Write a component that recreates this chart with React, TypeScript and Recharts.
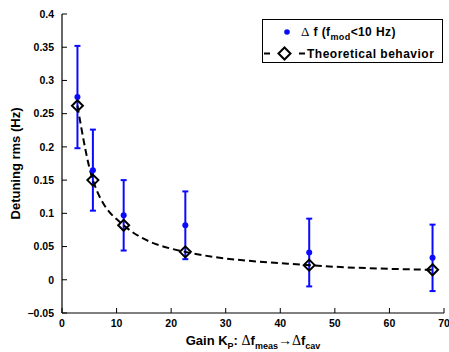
import React from 'react';
import { ComposedChart, Scatter, Line, XAxis, YAxis, ErrorBar, Legend, Label } from 'recharts';

const gains = [2.83, 5.66, 11.3, 22.6, 45.3, 67.9];
const measured = [0.275, 0.165, 0.097, 0.082, 0.041, 0.033];
const errors = [0.077, 0.061, 0.053, 0.051, 0.051, 0.05];
const theoretical = [0.262, 0.15, 0.082, 0.042, 0.022, 0.015];
const xTicks = [0, 10, 20, 30, 40, 50, 60, 70];
const yTicks = [-0.05, 0, 0.05, 0.1, 0.15, 0.2, 0.25, 0.3, 0.35, 0.4];

const data = gains.map((g, i) => ({ x: g, y: measured[i], err: errors[i], t: theoretical[i] }));

const BLUE = '#0a0aff';
const SANS = '"Liberation Sans", Arial, Helvetica, sans-serif';
const SERIF = '"Liberation Serif", "Times New Roman", serif';

const Diamond = (props: any) => {
  const { cx, cy } = props;
  if (cx == null || cy == null) return null;
  const r = 5.5;
  return (
    <path
      d={`M${cx},${cy - r}L${cx + r},${cy}L${cx},${cy + r}L${cx - r},${cy}Z`}
      fill="none"
      stroke="#000"
      strokeWidth={2}
    />
  );
};

const Dot = (props: any) => {
  const { cx, cy } = props;
  if (cx == null || cy == null) return null;
  return <circle cx={cx} cy={cy} r={3} fill={BLUE} />;
};

const LegendBox = () => (
  <svg width={181} height={44} style={{ display: 'block' }}>
    <rect x={0.5} y={0.5} width={180} height={43} fill="#fff" stroke="#000" strokeWidth={1} />
    <circle cx={25} cy={13} r={2.8} fill={BLUE} />
    <text x={39} y={17} fontFamily={SANS} fontWeight="bold" fontSize={12} letterSpacing={0.4} fill="#000">
      <tspan fontFamily={SERIF} fontWeight="normal" fontSize={13}>Δ</tspan>
      <tspan> f (f</tspan>
      <tspan fontSize={9} dy={4}>mod</tspan>
      <tspan dy={-4}>&lt;10 Hz)</tspan>
    </text>
    <line x1={2} y1={34.5} x2={8} y2={34.5} stroke="#000" strokeWidth={2} />
    <line x1={37} y1={34.5} x2={43} y2={34.5} stroke="#000" strokeWidth={2} />
    <path d="M22.5,28.5L28.5,34.5L22.5,40.5L16.5,34.5Z" fill="none" stroke="#000" strokeWidth={2} />
    <text x={45} y={38.5} fontFamily={SANS} fontWeight="bold" fontSize={12} letterSpacing={0.5} fill="#000">
      Theoretical behavior
    </text>
  </svg>
);

const tickStyle = { fill: '#000', fontSize: 10.5, fontWeight: 'bold', fontFamily: SANS };

const fmtY = (v: number) => (v < 0 ? '\u2212' + String(Math.abs(v)) : String(v));

const XLabel = (props: any) => {
  const vb = props.viewBox || {};
  const cx = vb.x + vb.width / 2;
  return (
    <text x={cx} y={345} textAnchor="middle" fontFamily={SANS} fontWeight="bold" fontSize={13} fill="#000">
      <tspan>Gain K</tspan>
      <tspan fontSize={9} dy={4}>P</tspan>
      <tspan dy={-4}>: </tspan>
      <tspan fontFamily={SERIF} fontWeight="normal" fontSize={14}>Δ</tspan>
      <tspan>f</tspan>
      <tspan fontSize={9} dy={4}>meas</tspan>
      <tspan dy={-4} fontFamily={SERIF} fontWeight="normal" fontSize={14}>→Δ</tspan>
      <tspan>f</tspan>
      <tspan fontSize={9} dy={4}>cav</tspan>
    </text>
  );
};

const YLabel = (props: any) => {
  const vb = props.viewBox || {};
  const cy = vb.y + vb.height / 2;
  const x = 20;
  return (
    <text
      x={x}
      y={cy}
      transform={`rotate(-90 ${x} ${cy})`}
      textAnchor="middle"
      fontFamily={SANS}
      fontWeight="bold"
      fontSize={13}
      fill="#000"
    >
      Detuning rms (Hz)
    </text>
  );
};

export default function App() {
  return (
    <div style={{ position: 'absolute', left: 0, top: 0, width: 449, height: 352, background: '#fff' }}>
      <ComposedChart width={449} height={352} data={data} margin={{ top: 14, right: 5, bottom: 0, left: 0 }}>
        <XAxis
          xAxisId="b"
          type="number"
          dataKey="x"
          domain={[0, 70]}
          ticks={xTicks}
          interval={0}
          orientation="bottom"
          height={39}
          tickSize={-5}
          tickMargin={12}
          axisLine={{ stroke: '#000', strokeWidth: 1.2 }}
          tickLine={{ stroke: '#000' }}
          tick={tickStyle}
          allowDataOverflow
        >
          <Label content={<XLabel />} />
        </XAxis>
        <XAxis
          xAxisId="t"
          type="number"
          dataKey="x"
          domain={[0, 70]}
          ticks={xTicks}
          interval={0}
          orientation="top"
          height={0}
          tickSize={-5}
          tickFormatter={() => ''}
          axisLine={{ stroke: '#000', strokeWidth: 1.2 }}
          tickLine={{ stroke: '#000' }}
          allowDataOverflow
        />
        <YAxis
          yAxisId="l"
          type="number"
          domain={[-0.05, 0.4]}
          ticks={yTicks}
          interval={0}
          width={62}
          tickSize={-5}
          tickMargin={13}
          tickFormatter={fmtY}
          axisLine={{ stroke: '#000', strokeWidth: 1.2 }}
          tickLine={{ stroke: '#000' }}
          tick={tickStyle}
          allowDataOverflow
        >
          <Label content={<YLabel />} />
        </YAxis>
        <YAxis
          yAxisId="r"
          orientation="right"
          type="number"
          domain={[-0.05, 0.4]}
          ticks={yTicks}
          interval={0}
          width={0}
          tickSize={-5}
          tickFormatter={() => ''}
          axisLine={{ stroke: '#000', strokeWidth: 1.2 }}
          tickLine={{ stroke: '#000' }}
          allowDataOverflow
        />
        <Scatter xAxisId="b" yAxisId="l" dataKey="y" fill={BLUE} shape={<Dot />} isAnimationActive={false}>
          <ErrorBar dataKey="err" direction="y" width={3} stroke={BLUE} strokeWidth={2} isAnimationActive={false} />
        </Scatter>
        <Line
          xAxisId="b"
          yAxisId="l"
          dataKey="t"
          type="monotone"
          stroke="#000"
          strokeWidth={2}
          strokeDasharray="7 4"
          dot={<Diamond />}
          activeDot={false}
          isAnimationActive={false}
        />
        <Legend
          layout="vertical"
          align="center"
          verticalAlign="middle"
          content={() => <LegendBox />}
          wrapperStyle={{ position: 'absolute', left: 262, top: 19, width: 181, height: 44, margin: 0, padding: 0 }}
        />
      </ComposedChart>
    </div>
  );
}
